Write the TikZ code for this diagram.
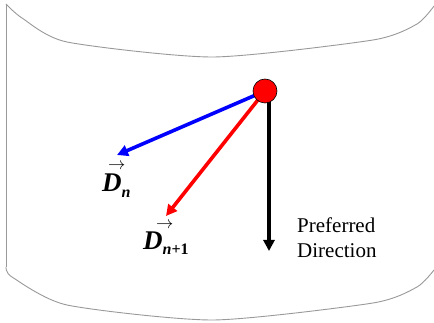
\documentclass[tikz,border=0pt]{standalone}
\usepackage{fontspec}
\setmainfont{Liberation Serif}
\usetikzlibrary{arrows.meta}

\begin{document}
\begin{tikzpicture}[
        x=1pt, y=-1pt,
        borda/.style={draw=gray!80, line width=0.9pt},
        vetor/.style={line width=3.6pt, -{Triangle[length=11pt, width=11pt]}},
        ponto/.style={circle, draw=black, fill=red, line width=0.6pt, minimum size=24pt, inner sep=0pt},
        rotulo/.style={inner sep=0pt, anchor=base west}
    ]
        \useasboundingbox (0,0) rectangle (434,323);

        % Cilindro
        \draw[borda] (6,4) -- (6,267);
        \draw[borda] plot[smooth, tension=0.4] coordinates {(6,4) (22,18) (67,42) (213,57) (373,40) (417,24) (434,6)};
        \draw[borda] plot[smooth, tension=0.4] coordinates {(6,267) (12,277) (67,305) (213,320) (373,303) (417,287) (434,270)};

        % Pontas
        \coordinate (centro) at (265,91);
        \coordinate (pn) at (117,155);
        \coordinate (pn1) at (166,216);
        \coordinate (pref) at (269,251);

        % Vetores
        \draw[vetor, black] (centro -| pref) -- (pref);
        \draw[vetor, blue] (centro) -- (pn);
        \draw[vetor, red] (centro) -- (pn1);
        \node[ponto] (ponto) at (centro) {};

        % Rotulos
        \node[rotulo] (dn) at (102,192) {\makebox[0pt][l]{\hspace{6pt}\raisebox{22pt}{\fontsize{17}{17}\selectfont$\rightarrow$}}{\fontsize{27}{27}\selectfont\bfseries\itshape D}\raisebox{-6pt}{\fontsize{16}{16}\selectfont\bfseries\itshape n}};
        \node[rotulo] (dn1) at (143,250) {\makebox[0pt][l]{\hspace{13pt}\raisebox{21pt}{\fontsize{17}{17}\selectfont$\rightarrow$}}{\fontsize{27}{27}\selectfont\bfseries\itshape D}\raisebox{-5pt}{\fontsize{16}{16}\selectfont\bfseries{\itshape n}+1}};
        \node[rotulo, align=left, font=\fontsize{21}{25}\selectfont] (texto) at (297,258) {Preferred\\Direction};
    \end{tikzpicture}
\end{document}
